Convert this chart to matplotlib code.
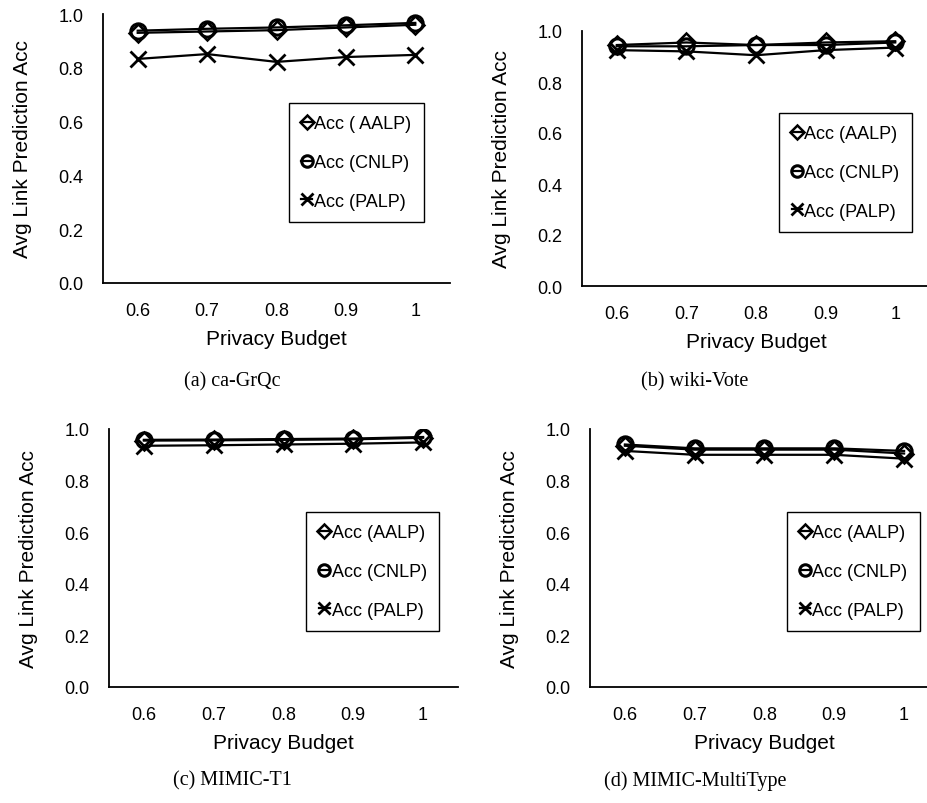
import matplotlib

matplotlib.use("Agg")
import matplotlib.pyplot as plt

plt.rcParams["font.family"] = ["Liberation Sans", "DejaVu Sans"]

budgets = ["0.6", "0.7", "0.8", "0.9", "1"]
y_ticks = [0.0, 0.2, 0.4, 0.6, 0.8, 1.0]

# (a) ca-GrQc
aalp_a = [0.930, 0.935, 0.940, 0.950, 0.960]
cnlp_a = [0.938, 0.945, 0.950, 0.958, 0.967]
palp_a = [0.833, 0.851, 0.822, 0.840, 0.848]

# (b) wiki-Vote
aalp_b = [0.945, 0.955, 0.945, 0.955, 0.960]
cnlp_b = [0.940, 0.940, 0.945, 0.945, 0.955]
palp_b = [0.925, 0.920, 0.905, 0.925, 0.935]

# (c) MIMIC-T1
aalp_c = [0.955, 0.956, 0.958, 0.960, 0.966]
cnlp_c = [0.958, 0.959, 0.961, 0.963, 0.969]
palp_c = [0.935, 0.937, 0.940, 0.943, 0.948]

# (d) MIMIC-MultiType
aalp_d = [0.935, 0.920, 0.920, 0.920, 0.905]
cnlp_d = [0.940, 0.925, 0.925, 0.925, 0.915]
palp_d = [0.915, 0.900, 0.900, 0.900, 0.885]

W, H = 928, 804

# panel boxes in pixels: left, right, top, bottom ; caption centre x, y ; legend centre
PANELS = [
    dict(box=(103, 450, 15, 284), cap=(232, 382), leg=(0.730, 0.448),
         data=(aalp_a, cnlp_a, palp_a), caption="(a) ca-GrQc",
         labels=("Acc ( AALP)", "Acc (CNLP)", "Acc (PALP)")),
    dict(box=(582, 930, 32, 287), cap=(695, 382), leg=(0.757, 0.445),
         data=(aalp_b, cnlp_b, palp_b), caption="(b) wiki-Vote",
         labels=("Acc (AALP)", "Acc (CNLP)", "Acc (PALP)")),
    dict(box=(109, 458, 430, 688), cap=(232, 781), leg=(0.756, 0.448),
         data=(aalp_c, cnlp_c, palp_c), caption="(c) MIMIC-T1",
         labels=("Acc (AALP)", "Acc (CNLP)", "Acc (PALP)")),
    dict(box=(590, 939, 430, 688), cap=(695, 781), leg=(0.755, 0.448),
         data=(aalp_d, cnlp_d, palp_d), caption="(d) MIMIC-MultiType",
         labels=("Acc (AALP)", "Acc (CNLP)", "Acc (PALP)")),
]

MARKERS = [
    dict(marker="D", markersize=9, markerfacecolor="none", markeredgewidth=1.8),
    dict(marker="o", markersize=11, markerfacecolor="none", markeredgewidth=2.2),
    dict(marker="x", markersize=12, markeredgewidth=2.0),
]

fig = plt.figure(figsize=(W / 100, H / 100), dpi=100)

for p in PANELS:
    l, r, t, b = p["box"]
    ax = fig.add_axes([l / W, 1 - b / H, (r - l) / W, (b - t) / H])
    x = range(len(budgets))
    for vals, lab, mk in zip(p["data"], p["labels"], MARKERS):
        ax.plot(x, vals, color="black", lw=1.6, label=lab, **mk)

    ax.set_xlim(-0.5, len(budgets) - 0.5)
    ax.set_ylim(0, 1.0)
    ax.set_xticks(list(x))
    ax.set_xticklabels(budgets)
    ax.set_yticks(y_ticks)
    ax.set_yticklabels([f"{v:.1f}" for v in y_ticks])
    ax.tick_params(length=0, labelsize=13, pad=14)
    ax.tick_params(axis="x", pad=14)
    for side in ("top", "right"):
        ax.spines[side].set_visible(False)
    for side in ("left", "bottom"):
        ax.spines[side].set_linewidth(1.3)
    ax.set_xlabel("Privacy Budget", fontsize=15, labelpad=7)
    ax.set_ylabel("Avg Link Prediction Acc", fontsize=15, labelpad=19)

    leg = ax.legend(
        loc="center",
        bbox_to_anchor=p["leg"],
        fontsize=13,
        frameon=True,
        fancybox=False,
        edgecolor="black",
        framealpha=1,
        markerscale=0.75,
        handlelength=0.6,
        handletextpad=0.1,
        labelspacing=1.2,
        borderpad=0.7,
        borderaxespad=0,
    )
    leg.get_frame().set_linewidth(1.0)

    cx, cy = p["cap"]
    fig.text(cx / W, 1 - cy / H, p["caption"], ha="center", va="center",
             fontsize=14.5, family=["Liberation Serif", "DejaVu Serif"])

fig.savefig("out.png", dpi=100)
